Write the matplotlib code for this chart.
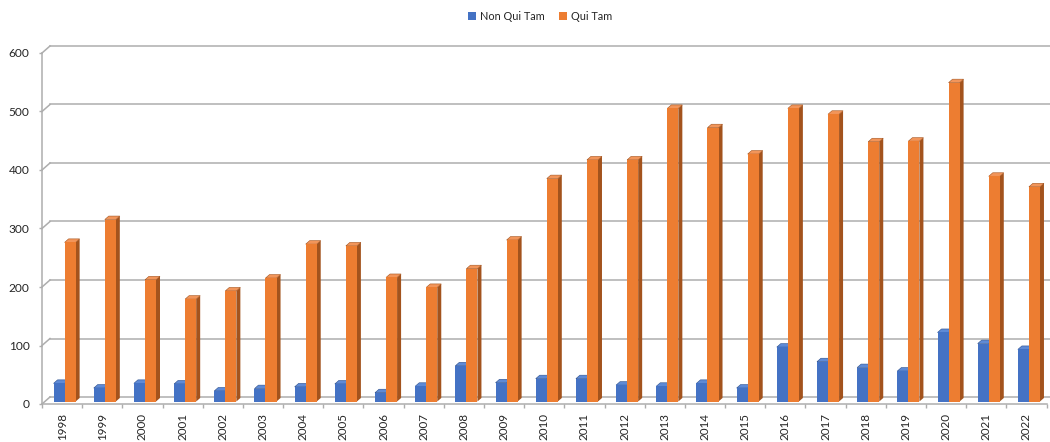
import matplotlib
matplotlib.use("Agg")
import matplotlib.pyplot as plt
from matplotlib.patches import Polygon, Patch
from matplotlib.lines import Line2D
from matplotlib.transforms import IdentityTransform, ScaledTranslation

# ---- data -------------------------------------------------------------
years = [str(y) for y in range(1998, 2023)]
non_qui_tam = [31, 23, 31, 30, 18, 22, 25, 30, 15, 26, 61, 32, 39,
               39, 28, 26, 31, 23, 93, 68, 58, 52, 118, 99, 89]
qui_tam = [272, 311, 208, 175, 189, 211, 269, 266, 212, 195, 227, 276, 381,
           413, 413, 501, 468, 423, 501, 491, 444, 445, 545, 385, 367]
y_ticks = [0, 100, 200, 300, 400, 500, 600]
series_names = ["Non Qui Tam", "Qui Tam"]

# ---- style ------------------------------------------------------------
FONT = ["Lato", "DejaVu Sans"]
plt.rcParams["font.family"] = FONT
GRID = "#ADADAD"
TEXT = "#262626"
FACE = {"front": ["#4472C4", "#ED7D31"],
        "side": ["#2C4F8C", "#A3531D"],
        "top": ["#5E8AD6", "#F2955A"]}

W, H, DPI = 1050, 442, 100
WALL = (8, 7)      # back wall offset, pixels (right, up)
FRONT = (2.5, 2.5)  # bar front plane offset, pixels
DEPTH = (4, 3.5)    # bar depth, pixels
BAR_W = 0.275

fig = plt.figure(figsize=(W / DPI, H / DPI), dpi=DPI)
ax = fig.add_axes([42 / W, (H - 404) / H, 1004.5 / W, 351 / H])
n = len(years)
ax.set_xlim(-0.5, n - 0.5)
ax.set_ylim(0, 600)

for s in ("top", "right"):
    ax.spines[s].set_visible(False)
for s in ("left", "bottom"):
    ax.spines[s].set_color(GRID)
    ax.spines[s].set_linewidth(1.1)

ident = IdentityTransform()


def px(x, y):
    return ax.transData.transform((x, y))


# back wall gridlines with the diagonal connectors from the front axis
for v in y_ticks:
    fx, fy = px(-0.5, v)
    ex, ey = px(n - 0.5, v)
    ax.add_line(Line2D([fx + WALL[0], ex + WALL[0] + 10], [fy + WALL[1], ey + WALL[1]],
                       transform=ident, color=GRID, lw=1.1, zorder=1, clip_on=False))
    ax.add_line(Line2D([fx, fx + WALL[0]], [fy, fy + WALL[1]],
                       transform=ident, color=GRID, lw=1.1, zorder=1, clip_on=False))

# columns: front faces via ax.bar, side and top faces as parallelograms
shift = ScaledTranslation(FRONT[0] / DPI, FRONT[1] / DPI, fig.dpi_scale_trans)
xs = list(range(n))
for k, vals in enumerate([non_qui_tam, qui_tam]):
    centers = [x + (k - 0.5) * BAR_W for x in xs]
    ax.bar(centers, vals, width=BAR_W, color=FACE["front"][k], linewidth=0,
           transform=ax.transData + shift, zorder=3 + k)
    for c, v in zip(centers, vals):
        x0, y0 = px(c - BAR_W / 2, 0)
        x1, y1 = px(c + BAR_W / 2, v)
        x0 += FRONT[0]; x1 += FRONT[0]; y0 += FRONT[1]; y1 += FRONT[1]
        dx, dy = DEPTH
        side = Polygon([(x1, y0), (x1 + dx, y0 + dy), (x1 + dx, y1 + dy), (x1, y1)],
                       closed=True, transform=ident, facecolor=FACE["side"][k],
                       edgecolor="none", zorder=2.5 + k)
        top = Polygon([(x0, y1), (x1, y1), (x1 + dx, y1 + dy), (x0 + dx, y1 + dy)],
                      closed=True, transform=ident, facecolor=FACE["top"][k],
                      edgecolor=FACE["side"][k], linewidth=0.4, zorder=2.5 + k)
        ax.add_patch(side)
        ax.add_patch(top)

# axes ticks and labels
ax.set_yticks(y_ticks, [str(t) for t in y_ticks])
ax.tick_params(axis="y", length=2.5, width=1, color=GRID, pad=6.5,
               labelsize=8.6, labelcolor=TEXT)
ax.set_xticks(xs, years, rotation=90)
ax.set_xticks([x - 0.5 for x in range(n + 1)], minor=True)
ax.tick_params(axis="x", which="major", length=0, pad=6.5,
               labelsize=8.4, labelcolor=TEXT)
ax.tick_params(axis="x", which="minor", length=3, width=1, color=GRID)

handles = [Patch(facecolor=FACE["front"][k], edgecolor="none") for k in range(2)]
fig.legend(handles, series_names, loc="center", bbox_to_anchor=(540 / W, 1 - 16 / H),
           ncol=2, frameon=False, fontsize=7.8, handlelength=0.75, handleheight=0.75,
           handletextpad=0.4, columnspacing=1.3, labelcolor=TEXT)

fig.savefig("out.png", dpi=DPI)
